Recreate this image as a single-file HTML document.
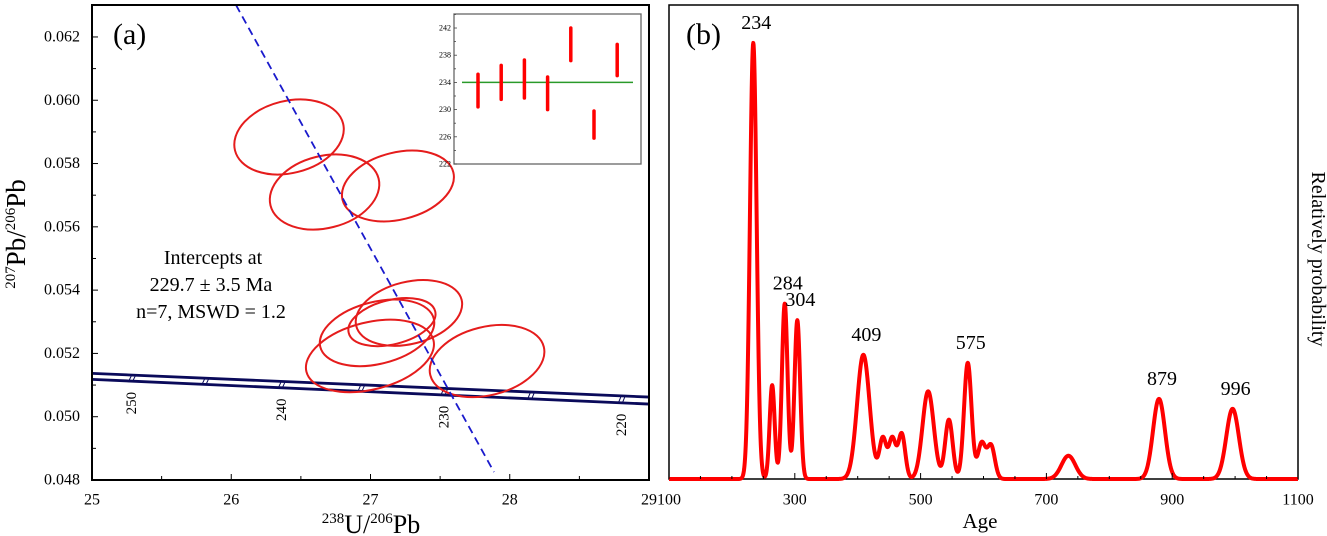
<!DOCTYPE html>
<html><head><meta charset="utf-8">
<style>
html,body{margin:0;padding:0;background:#fff;}
svg{display:block;font-family:"Liberation Serif",serif;}
</style></head>
<body>
<svg id="chart" width="1327" height="536" viewBox="0 0 1327 536" xmlns="http://www.w3.org/2000/svg">
<g id="pa"></g>
<g id="pb"></g>
</svg>
<script>
// ---- Panel (a) data ----
const xTicksA = [25, 26, 27, 28, 29];
const yTicksA = [0.048, 0.050, 0.052, 0.054, 0.056, 0.058, 0.060, 0.062];
const ellCx = [26.415, 26.67, 27.197, 27.276, 27.154, 27.047, 26.996, 27.837];
const ellCy = [0.05884, 0.05710, 0.05729, 0.05328, 0.05299, 0.05265, 0.05192, 0.05176];
const ellA = [0.40, 0.40, 0.41, 0.39, 0.32, 0.42, 0.47, 0.42];
const ellB = [0.00114, 0.00114, 0.00106, 0.00098, 0.00070, 0.00098, 0.00106, 0.00108];
const discX = [26.034, 27.887];
const discY = [0.06301, 0.04825];
const concAgesLabeled = [250, 240, 230, 220];
const concAgesMinor = [245, 235, 225];
const insetMin = [230.4, 231.5, 231.7, 230.0, 237.2, 225.8, 235.0];
const insetMax = [235.2, 236.5, 237.3, 234.8, 242.0, 229.8, 239.6];
const insetMean = 234;
const insetTicks = [222, 226, 230, 234, 238, 242];
// ---- Panel (b) data ----
const xTicksB = [100, 300, 500, 700, 900, 1100];
const peakAges = [234, 264, 284, 304, 409, 440, 455, 470, 512, 545, 575, 597, 612, 735, 879, 996];
const peakAmps = [0.92, 0.198, 0.37, 0.335, 0.262, 0.085, 0.085, 0.095, 0.185, 0.125, 0.245, 0.075, 0.07, 0.049, 0.169, 0.148];
const peakSig = [5.3, 4, 4.5, 4.5, 10, 5.5, 5.5, 5.5, 9, 6, 6, 6, 6, 11, 9.5, 10];
const labelAges = [234, 284, 304, 409, 575, 879, 996];
const labelText = ["234", "284", "304", "409", "575", "879", "996"];

const NS = "http://www.w3.org/2000/svg";
function mk(parent, tag, attrs, text) {
  const e = document.createElementNS(NS, tag);
  for (const k in attrs) e.setAttribute(k, attrs[k]);
  if (text !== undefined) e.textContent = text;
  parent.appendChild(e);
  return e;
}
// ---------- Panel (a) ----------
const pa = document.getElementById('pa');
const A = {l: 92, r: 649, t: 5, b: 480, x0: 25, x1: 29, y0: 0.048, y1: 0.06301};
const ax = v => A.l + (v - A.x0) / (A.x1 - A.x0) * (A.r - A.l);
const ay = v => A.b - (v - A.y0) / (A.y1 - A.y0) * (A.b - A.t);
const clipA = mk(pa, 'clipPath', {id: 'clipA'});
mk(clipA, 'rect', {x: A.l, y: A.t, width: A.r - A.l, height: A.b - A.t});

const lam = 1.55125e-10;
const concX = t => 1 / (Math.exp(lam * t * 1e6) - 1);
const concGroup = mk(pa, 'g', {'clip-path': 'url(#clipA)'});


const slope = (0.05062 - 0.05137) / 4;
const topY = x => 0.05137 + slope * (x - 25);
const botY = x => 0.05118 + (0.05040 - 0.05118) / 4 * (x - 25);
mk(concGroup, 'line', {x1: ax(25), y1: ay(topY(25)), x2: ax(29), y2: ay(topY(29)), stroke: '#0a0a5a', 'stroke-width': 2.8});
mk(concGroup, 'line', {x1: ax(25), y1: ay(botY(25)), x2: ax(29), y2: ay(botY(29)), stroke: '#0a0a5a', 'stroke-width': 2.8});
concAgesLabeled.concat(concAgesMinor).forEach(t => {
  const x = ax(concX(t));
  const y1 = ay(topY(concX(t))), y2 = ay(botY(concX(t)));
  const m = mk(concGroup, 'path', {d: `M${x-3},${y2-1} L${x-1},${y1+1} M${x+1},${y2-1} L${x+3},${y1+1}`, stroke: '#0a0a5a', 'stroke-width': 1, fill: 'none'});
  
  
});
concAgesLabeled.forEach(t => {
  const x = ax(concX(t));
  const y = ay(botY(concX(t))) + 22;
  const lb = mk(pa, 'text', {x: x, y: y, transform: `rotate(-90 ${x} ${y})`, 'text-anchor': 'middle', 'dominant-baseline': 'central', 'font-size': 15}, String(t));
  
  
});

ellCx.forEach((cx, i) => {
  const px = ax(cx), py = ay(ellCy[i]);
  const rx = ellA[i] / (A.x1 - A.x0) * (A.r - A.l);
  const ry = ellB[i] / (A.y1 - A.y0) * (A.b - A.t);
  const e = mk(pa, 'ellipse', {cx: px, cy: py, rx: rx, ry: ry, transform: `rotate(-14 ${px} ${py})`, fill: 'none', stroke: '#e51c1c', 'stroke-width': 2});
  
  
});
const dl = mk(pa, 'line', {x1: ax(discX[0]), y1: ay(discY[0]), x2: ax(discX[1]), y2: ay(discY[1]), stroke: '#1a1acc', 'stroke-width': 1.8, 'stroke-dasharray': '8,5', 'clip-path': 'url(#clipA)'});



const fa = mk(pa, 'rect', {x: A.l, y: A.t, width: A.r - A.l, height: A.b - A.t, fill: 'none', stroke: '#000', 'stroke-width': 2});


xTicksA.forEach((v, i) => {
  const x = ax(v);
  mk(pa, 'line', {x1: x, y1: A.b, x2: x, y2: A.b - 6, stroke: '#000', 'stroke-width': 1});
  if (i < xTicksA.length - 1) mk(pa, 'line', {x1: ax(v + 0.5), y1: A.b, x2: ax(v + 0.5), y2: A.b - 4, stroke: '#000', 'stroke-width': 1});
  const t = mk(pa, 'text', {x: x, y: 500, 'text-anchor': 'middle', 'dominant-baseline': 'central', 'font-size': 16}, String(v));
  
  
});
yTicksA.forEach(v => {
  const y = ay(v);
  mk(pa, 'line', {x1: A.l, y1: y, x2: A.l + 6, y2: y, stroke: '#000', 'stroke-width': 1});
  mk(pa, 'line', {x1: A.l, y1: ay(v + 0.001), x2: A.l + 4, y2: ay(v + 0.001), stroke: '#000', 'stroke-width': 1});
  const t = mk(pa, 'text', {x: 80, y: y, 'text-anchor': 'end', 'dominant-baseline': 'central', 'font-size': 16}, v.toFixed(3));
  
  
});
const yt = mk(pa, 'text', {x: 25, y: 234, transform: 'rotate(-90 25 234)', 'text-anchor': 'middle', 'font-size': 27});


mk(yt, 'tspan', {'font-size': 15, dy: -10}, '207');
mk(yt, 'tspan', {dy: 10}, 'Pb/');
mk(yt, 'tspan', {'font-size': 15, dy: -10}, '206');
mk(yt, 'tspan', {dy: 10}, 'Pb');
const xt = mk(pa, 'text', {x: 371, y: 533, 'text-anchor': 'middle', 'font-size': 26});


mk(xt, 'tspan', {'font-size': 15, dy: -10}, '238');
mk(xt, 'tspan', {dy: 10}, 'U/');
mk(xt, 'tspan', {'font-size': 15, dy: -10}, '206');
mk(xt, 'tspan', {dy: 10}, 'Pb');
const la = mk(pa, 'text', {x: 113, y: 44, 'font-size': 30}, '(a)');


const ann = mk(pa, 'g', {'font-size': 20, 'text-anchor': 'middle'});


mk(ann, 'text', {x: 213, y: 264}, 'Intercepts at');
mk(ann, 'text', {x: 211, y: 291}, '229.7 \u00b1 3.5 Ma');
mk(ann, 'text', {x: 211, y: 318}, 'n=7, MSWD = 1.2');

const I = {l: 454, r: 641, t: 14, b: 164, y0: 222, y1: 244.06};
const iy = v => I.b - (v - I.y0) / (I.y1 - I.y0) * (I.b - I.t);
const inset = mk(pa, 'g', {});


mk(inset, 'rect', {x: I.l, y: I.t, width: I.r - I.l, height: I.b - I.t, fill: '#fff', stroke: '#666', 'stroke-width': 1.3});
insetTicks.forEach(v => {
  mk(inset, 'line', {x1: I.l, y1: iy(v), x2: I.l + 3, y2: iy(v), stroke: '#444', 'stroke-width': 0.8});
  mk(inset, 'line', {x1: I.l, y1: iy(v + 2), x2: I.l + 2, y2: iy(v + 2), stroke: '#444', 'stroke-width': 0.8});
  mk(inset, 'text', {x: I.l - 3, y: iy(v), 'text-anchor': 'end', 'dominant-baseline': 'central', 'font-size': 8}, String(v));
});
const ml = mk(inset, 'line', {x1: 462, y1: iy(insetMean), x2: 633, y2: iy(insetMean), stroke: '#2a9a2a', 'stroke-width': 1.5});


insetMin.forEach((mn, i) => {
  const x = 478 + i * 23.2;
  const b = mk(inset, 'line', {x1: x, y1: iy(mn), x2: x, y2: iy(insetMax[i]), stroke: '#f00', 'stroke-width': 3.5, 'stroke-linecap': 'round'});
  
  
});

// ---------- Panel (b) ----------
const pb = document.getElementById('pb');
const B = {l: 669, r: 1298, t: 5, b: 479, x0: 100, x1: 1100};
const bx = v => B.l + (v - B.x0) / (B.x1 - B.x0) * (B.r - B.l);
const by = v => B.b - v * (B.b - B.t);
const dens = a => peakAges.reduce((s, m, i) => s + peakAmps[i] * Math.exp(-0.5 * ((a - m) / peakSig[i]) ** 2), 0);
let d = '';
for (let a = B.x0; a <= B.x1; a += 0.5) d += (d ? 'L' : 'M') + bx(a).toFixed(2) + ',' + by(dens(a)).toFixed(2);
const fb = mk(pb, 'rect', {x: B.l, y: B.t, width: B.r - B.l, height: B.b - B.t, fill: 'none', stroke: '#000', 'stroke-width': 1.5});


const curve = mk(pb, 'path', {d: d, fill: 'none', stroke: '#f00', 'stroke-width': 4, 'stroke-linejoin': 'round'});


for (let v = 100; v <= 1100; v += 50) {
  mk(pb, 'line', {x1: bx(v), y1: B.b, x2: bx(v), y2: B.b - (v % 200 === 100 ? 6 : 3), stroke: '#000', 'stroke-width': 1});
}
xTicksB.forEach(v => {
  const t = mk(pb, 'text', {x: bx(v), y: 500, 'text-anchor': 'middle', 'dominant-baseline': 'central', 'font-size': 16}, String(v));
  
  
});
labelAges.forEach((a, i) => {
  const t = mk(pb, 'text', {x: bx(a) + 3, y: by(dens(a)) - 14, 'text-anchor': 'middle', 'font-size': 20}, labelText[i]);
  
  
});
const lb = mk(pb, 'text', {x: 686, y: 44, 'font-size': 30}, '(b)');


const bxT = mk(pb, 'text', {x: 980, y: 528, 'text-anchor': 'middle', 'font-size': 21}, 'Age');


const byT = mk(pb, 'text', {x: 1312, y: 259, transform: 'rotate(90 1312 259)', 'text-anchor': 'middle', 'font-size': 20}, 'Relatively probability');


</script>
</body></html>
